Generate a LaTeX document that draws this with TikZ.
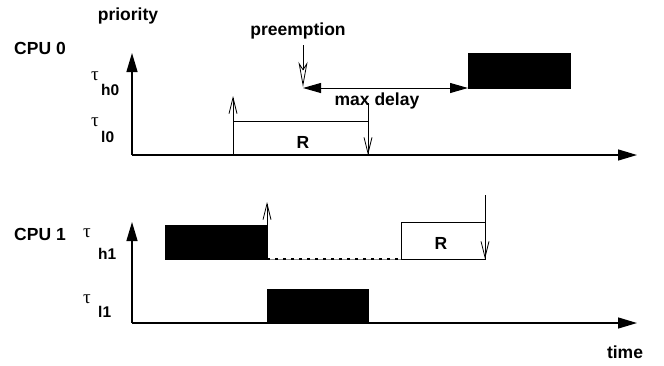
\documentclass[tikz,border=0pt]{standalone}
\usepackage{fontspec}
\setmainfont{Liberation Sans}
\newfontfamily\taufont{Liberation Serif}
\usetikzlibrary{arrows.meta}
\begin{document}
\begin{tikzpicture}[x=1pt,y=-1pt,
  lbl/.style={font=\fontsize{17.5}{20}\selectfont\bfseries, inner sep=0pt},
  taul/.style={font=\taufont\fontsize{19}{21}\selectfont, inner sep=0pt, anchor=base west},
  subl/.style={font=\fontsize{15.5}{18}\selectfont\bfseries, inner sep=0pt, anchor=base west},
  axis/.style={line width=1.3pt, -{Triangle[length=19pt,width=11pt]}},
  thin/.style={line width=0.8pt},
  evt/.style={line width=0.8pt, -{Straight Barb[length=16pt,width=8pt]}},
  blk/.style={fill=black, draw=black, line width=0.8pt},
  dly/.style={line width=1pt, {Triangle[length=18pt,width=10pt]}-{Triangle[length=18pt,width=10pt]}},
  pre/.style={line width=0.8pt, -{Stealth[open,length=25pt,width=9pt,inset=7pt]}},
  waitbase/.style={line width=1pt, draw=black!45},
  waitl/.style={line width=1.3pt, dash pattern=on 2.5pt off 5.5pt}
]
\useasboundingbox (0,0) rectangle (664,365);

% ---------- CPU 0 ----------
\coordinate (o0) at (132,155);
\coordinate (y0) at (132,53);
\coordinate (x0) at (637,155);
\draw[axis] (o0) -- (y0);
\draw[axis] (o0) -- (x0);

\node[lbl] (prio) at (128,16) {priority};
\node[lbl] (cpu0) at (40,48) {CPU 0};
\node[taul] (th0) at (91,80) {τ};
\node[subl] (sh0) at (101,95) {h0};
\node[taul] (tl0) at (91,126) {τ};
\node[subl] (sl0) at (101,142) {l0};

% R box on CPU 0
\coordinate (r0a) at (233,155);
\coordinate (r0b) at (368,121);
\draw[thin] (r0a) rectangle (r0b);
\node[lbl] (R0) at (303,142) {R};
\coordinate (rel0) at (233,96);
\draw[evt] (r0a) -- (rel0);
\coordinate (dl0s) at (368,103);
\coordinate (dl0e) at (368,155);
\draw[evt] (dl0s) -- (dl0e);

% preemption
\node[lbl] (prem) at (298,31) {preemption};
\coordinate (pres) at (303,45);
\coordinate (pree) at (303,87);
\draw[pre] (pres) -- (pree);
\coordinate (dla) at (303,88);
\coordinate (dlb) at (468,88);
\draw[dly] (dla) -- (dlb);
\node[lbl] (maxd) at (377,101) {max delay};
\coordinate (h0a) at (468,53);
\coordinate (h0b) at (570,88);
\draw[blk] (h0a) rectangle (h0b);

% ---------- CPU 1 ----------
\coordinate (o1) at (132,323);
\coordinate (y1) at (132,222);
\coordinate (x1) at (637,323);
\draw[axis] (o1) -- (y1);
\draw[axis] (o1) -- (x1);

\node[lbl] (cpu1) at (40,234) {CPU 1};
\node[taul] (th1) at (83,237) {τ};
\node[subl] (sh1) at (98,259) {h1};
\node[taul] (tl1) at (83,303) {τ};
\node[subl] (sl1) at (98,317) {l1};

\coordinate (h1a) at (165,225);
\coordinate (h1b) at (267,259);
\draw[blk] (h1a) rectangle (h1b);
\coordinate (rel1s) at (267,225);
\coordinate (rel1e) at (267,202);
\draw[evt] (rel1s) -- (rel1e);
\coordinate (w1) at (401,259);
\draw[waitbase] (h1b) -- (w1);
\draw[waitl] (h1b) -- (w1);
\coordinate (r1b) at (485,222);
\draw[thin] (w1) rectangle (r1b);
\node[lbl] (R1) at (441,243) {R};
\coordinate (dl1s) at (485,195);
\coordinate (dl1e) at (485,259);
\draw[evt] (dl1s) -- (dl1e);

\coordinate (l1a) at (267,289);
\coordinate (l1b) at (368,323);
\draw[blk] (l1a) rectangle (l1b);

\node[lbl] (time) at (625,352) {time};
\end{tikzpicture}
\end{document}
